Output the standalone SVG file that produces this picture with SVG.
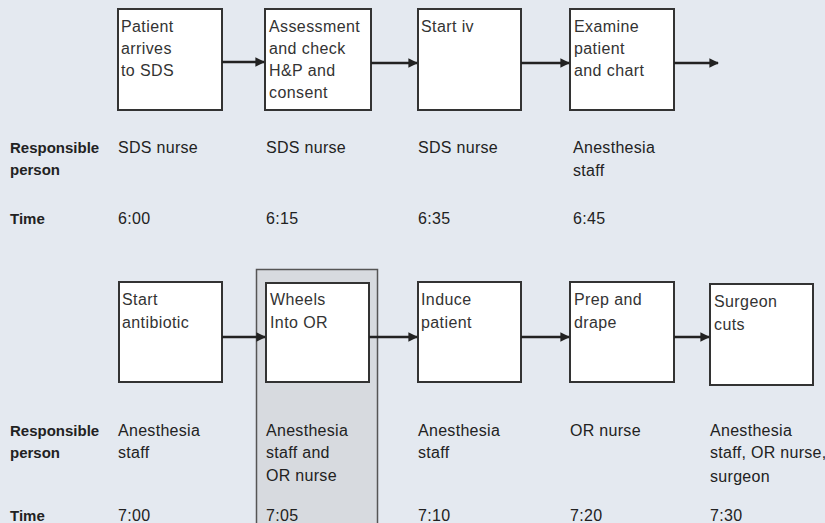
<svg xmlns="http://www.w3.org/2000/svg" width="825" height="523" viewBox="0 0 825 523">
<defs>
<style>
.bg{fill:#e4e9f0}
.hl{fill:#d7dadf;stroke:#555;stroke-width:1.5}
.box{fill:#fff;stroke:#333;stroke-width:2}
.bt{font-family:"Liberation Sans",Arial,sans-serif;font-size:16px;fill:#333;letter-spacing:0.4px}
.rt{font-family:"Liberation Sans",Arial,sans-serif;font-size:16px;fill:#222;letter-spacing:0.3px}
.lb{font-family:"Liberation Sans",Arial,sans-serif;font-size:15px;font-weight:bold;fill:#222}
.cn{fill:none;stroke:#222;stroke-width:2.4;marker-end:url(#ah)}
</style>
<marker id="ah" viewBox="0 0 10 10" refX="9" refY="5" markerWidth="4" markerHeight="4" markerUnits="strokeWidth" orient="auto">
<path d="M0,0 L10,5 L0,10 Z" fill="#222"/>
</marker>
</defs>
<rect class="bg" x="0" y="0" width="825" height="523"/>
<rect id="highlight" class="hl" x="256.5" y="269.5" width="121" height="260"/>

<g id="row-labels">
<text class="lb" x="10" y="153">Responsible</text>
<text class="lb" x="10" y="175">person</text>
<text class="lb" x="10" y="224">Time</text>
<text class="lb" x="10" y="436">Responsible</text>
<text class="lb" x="10" y="458">person</text>
<text class="lb" x="10" y="521">Time</text>
</g>

<g id="n1">
<rect class="box" x="118" y="9" width="104" height="101"/>
<text class="bt" x="121" y="32">Patient</text>
<text class="bt" x="121" y="54">arrives</text>
<text class="bt" x="121" y="76">to SDS</text>
<text class="rt" x="118" y="153">SDS  nurse</text>
<text class="rt" x="118" y="224">6:00</text>
</g>
<g id="n2">
<rect class="box" x="265" y="9" width="106" height="101"/>
<text class="bt" x="269" y="32">Assessment</text>
<text class="bt" x="269" y="54">and check</text>
<text class="bt" x="269" y="76">H&amp;P and</text>
<text class="bt" x="269" y="98">consent</text>
<text class="rt" x="266" y="153">SDS nurse</text>
<text class="rt" x="266" y="224">6:15</text>
</g>
<g id="n3">
<rect class="box" x="418" y="9" width="103" height="101"/>
<text class="bt" x="421" y="32">Start iv</text>
<text class="rt" x="418" y="153">SDS  nurse</text>
<text class="rt" x="418" y="224">6:35</text>
</g>
<g id="n4">
<rect class="box" x="570" y="9" width="104" height="101"/>
<text class="bt" x="574" y="32">Examine</text>
<text class="bt" x="574" y="54">patient</text>
<text class="bt" x="574" y="76">and chart</text>
<text class="rt" x="573" y="153">Anesthesia</text>
<text class="rt" x="573" y="176">staff</text>
<text class="rt" x="573" y="224">6:45</text>
</g>

<g id="n5">
<rect class="box" x="119" y="282" width="103" height="100"/>
<text class="bt" x="122" y="305">Start</text>
<text class="bt" x="122" y="328">antibiotic</text>
<text class="rt" x="118" y="436">Anesthesia</text>
<text class="rt" x="118" y="458">staff</text>
<text class="rt" x="118" y="521">7:00</text>
</g>
<g id="n6">
<rect class="box" x="266" y="283" width="103" height="99"/>
<text class="bt" x="270" y="305">Wheels</text>
<text class="bt" x="270" y="328">Into OR</text>
<text class="rt" x="266" y="436">Anesthesia</text>
<text class="rt" x="266" y="458">staff and</text>
<text class="rt" x="266" y="481">OR nurse</text>
<text class="rt" x="266" y="521">7:05</text>
</g>
<g id="n7">
<rect class="box" x="418" y="282" width="103" height="100"/>
<text class="bt" x="421" y="305">Induce</text>
<text class="bt" x="421" y="328">patient</text>
<text class="rt" x="418" y="436">Anesthesia</text>
<text class="rt" x="418" y="458">staff</text>
<text class="rt" x="418" y="521">7:10</text>
</g>
<g id="n8">
<rect class="box" x="570" y="282" width="104" height="100"/>
<text class="bt" x="574" y="305">Prep and</text>
<text class="bt" x="574" y="328">drape</text>
<text class="rt" x="570" y="436">OR nurse</text>
<text class="rt" x="570" y="521">7:20</text>
</g>
<g id="n9">
<rect class="box" x="710" y="284" width="103" height="101"/>
<text class="bt" x="714" y="307">Surgeon</text>
<text class="bt" x="714" y="330">cuts</text>
<text class="rt" x="710" y="436">Anesthesia</text>
<text class="rt" x="710" y="458">staff, OR nurse,</text>
<text class="rt" x="710" y="482">surgeon</text>
<text class="rt" x="710" y="521">7:30</text>
</g>

<g id="connectors">
<line class="cn" x1="222" y1="62" x2="264" y2="62"/>
<line class="cn" x1="371" y1="63" x2="417" y2="63"/>
<line class="cn" x1="521" y1="63" x2="569" y2="63"/>
<line class="cn" x1="674" y1="63" x2="718" y2="63"/>
<line class="cn" x1="222" y1="337" x2="265" y2="337"/>
<line class="cn" x1="369" y1="337" x2="417" y2="337"/>
<line class="cn" x1="521" y1="337" x2="569" y2="337"/>
<line class="cn" x1="674" y1="337" x2="709" y2="337"/>
</g>
</svg>
